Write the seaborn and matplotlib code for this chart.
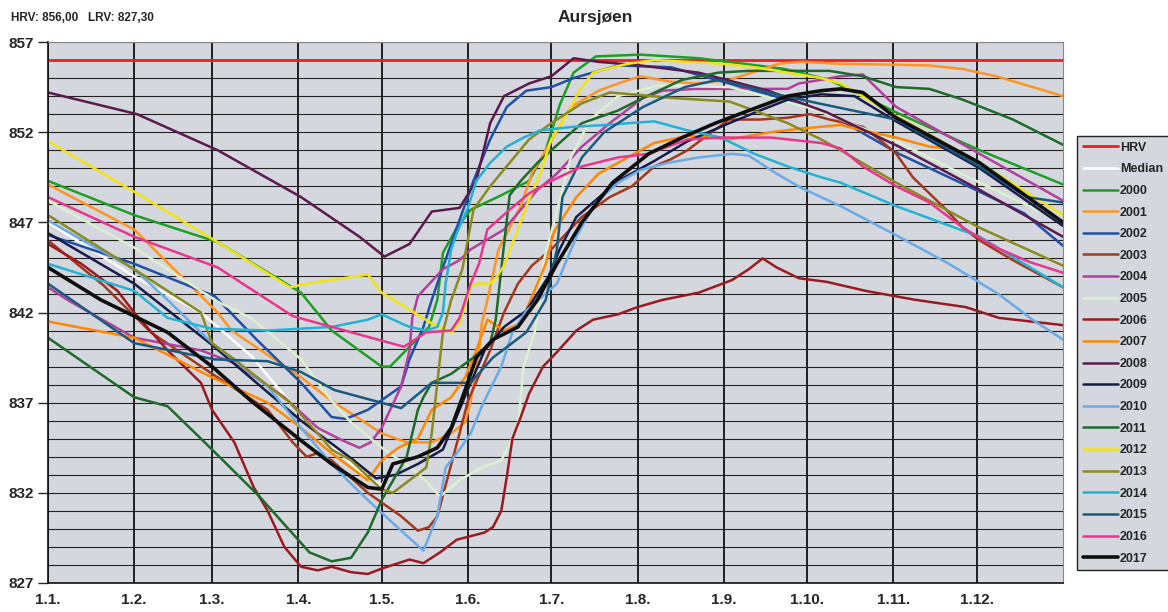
import matplotlib
matplotlib.use("Agg")
import matplotlib.pyplot as plt
from matplotlib.lines import Line2D
import seaborn as sns

# water level (m) per year, (day of year, level)
hrv = [(0, 856.0), (365, 856.0)]
median = [(0, 847.0), (31, 844.0), (55, 842.0), (73, 839.6), (91, 836.3), (102, 834.6), (115, 832.8),
          (120, 832.4), (124, 833.6), (133, 834.0), (140, 834.5), (145, 835.6), (150, 837.7), (154, 839.5),
          (160, 840.5), (169, 841.2), (176, 842.7), (183, 844.7), (192, 847.0), (203, 849.2), (216, 850.8),
          (228, 851.7), (240, 852.5), (252, 853.2), (266, 854.0), (278, 854.3), (285, 854.4), (293, 854.2),
          (305, 852.8), (335, 850.3), (365, 847.0)]

y2000 = [(0, 849.3), (31, 847.4), (61, 845.9), (91, 843.1), (102, 841.0), (120, 839.0), (123, 839.0),
         (130, 840.1), (137, 841.2), (140, 842.7), (142, 845.3), (147, 846.7), (152, 847.7), (163, 848.5),
         (173, 849.3), (179, 851.0), (184, 853.5), (189, 855.3), (197, 856.2), (213, 856.3), (234, 856.1),
         (250, 855.8), (265, 855.5), (281, 854.9), (305, 853.1), (335, 851.0), (365, 849.1)]
y2001 = [(0, 849.1), (31, 846.6), (61, 842.0), (66, 841.0), (91, 838.4), (102, 837.1), (120, 835.3),
         (129, 834.8), (138, 834.8), (145, 835.3), (150, 835.9), (152, 837.1), (155, 839.9), (156, 841.4),
         (158, 842.7), (162, 845.5), (165, 846.4), (170, 847.9), (174, 849.7), (179, 851.0), (188, 853.4),
         (198, 854.3), (205, 854.7), (213, 855.1), (224, 854.8), (233, 854.7), (245, 854.9), (253, 855.3),
         (263, 855.8), (271, 855.9), (284, 855.8), (317, 855.7), (329, 855.5), (341, 855.1), (365, 854.0)]
y2002 = [(0, 846.3), (31, 844.7), (60, 842.9), (75, 840.5), (91, 838.1), (102, 836.2), (107, 836.1),
         (115, 836.6), (127, 837.9), (130, 839.4), (135, 841.2), (138, 842.7), (142, 844.5), (147, 846.7),
         (153, 849.3), (159, 851.6), (165, 853.4), (172, 854.3), (181, 854.5), (189, 855.0), (205, 855.7),
         (224, 855.6), (245, 854.7), (268, 853.7), (280, 853.1), (306, 850.8), (335, 848.7), (351, 847.5),
         (365, 845.7)]
y2003 = [(0, 846.0), (20, 843.5), (37, 840.9), (59, 838.6), (79, 836.6), (88, 834.8), (93, 834.0),
         (97, 834.2), (102, 833.8), (115, 832.0), (127, 830.7), (133, 829.9), (137, 830.1), (140, 830.7),
         (148, 835.3), (151, 837.1), (159, 839.9), (164, 842.0), (169, 843.6), (174, 844.6), (181, 845.5),
         (192, 847.3), (202, 848.4), (210, 849.0), (218, 850.1), (224, 850.5), (230, 851.0), (236, 851.7),
         (245, 852.7), (256, 852.7), (266, 852.8), (274, 853.0), (281, 852.7), (293, 852.3), (299, 851.6),
         (305, 850.8), (311, 849.5), (317, 848.6), (323, 847.7), (329, 846.7), (335, 846.0), (347, 844.9),
         (365, 843.4)]
y2004 = [(0, 843.4), (7, 842.7), (31, 840.6), (55, 839.9), (67, 839.2), (85, 837.3), (97, 835.6),
         (106, 834.9), (112, 834.5), (116, 834.8), (120, 835.6), (127, 837.9), (130, 839.9), (131, 841.7),
         (133, 842.9), (136, 843.4), (142, 844.4), (148, 844.9), (152, 845.5), (164, 846.6), (176, 848.8),
         (183, 849.7), (192, 851.2), (202, 852.5), (214, 853.9), (221, 854.3), (233, 854.4), (250, 854.4),
         (266, 854.4), (270, 854.7), (278, 854.9), (285, 855.1), (293, 855.2), (305, 853.4), (335, 850.8),
         (365, 848.2)]
y2005 = [(0, 848.2), (31, 845.6), (61, 842.6), (73, 841.7), (91, 839.4), (102, 837.1), (109, 835.9),
         (120, 834.5), (133, 833.1), (141, 831.8), (148, 832.7), (156, 833.4), (163, 833.8), (169, 835.6),
         (171, 839.0), (175, 840.9), (177, 842.7), (178, 844.7), (188, 850.6), (195, 852.7), (205, 854.0),
         (220, 854.6), (245, 854.5), (275, 853.3), (305, 851.5), (335, 849.2), (365, 847.0)]
y2006 = [(0, 845.8), (12, 844.7), (25, 843.2), (31, 842.0), (43, 839.9), (55, 838.1), (59, 836.6),
         (67, 834.8), (74, 832.3), (79, 831.0), (85, 829.0), (91, 827.9), (97, 827.7), (102, 827.9),
         (109, 827.6), (115, 827.5), (120, 827.8), (130, 828.3), (135, 828.1), (141, 828.7), (147, 829.4),
         (152, 829.6), (157, 829.8), (160, 830.1), (163, 831.0), (165, 832.9), (167, 835.0), (170, 836.2),
         (173, 837.5), (178, 839.0), (183, 839.8), (190, 841.0), (196, 841.6), (205, 841.9), (212, 842.3),
         (221, 842.7), (234, 843.1), (246, 843.8), (252, 844.4), (257, 845.0), (262, 844.5), (270, 843.9),
         (280, 843.7), (294, 843.2), (312, 842.7), (330, 842.3), (342, 841.7), (365, 841.3)]
y2007 = [(0, 841.5), (31, 840.6), (59, 838.4), (79, 837.0), (91, 835.6), (102, 834.2), (115, 832.7),
         (120, 833.8), (126, 834.5), (133, 835.0), (138, 836.6), (145, 837.3), (150, 838.4), (154, 839.9),
         (158, 841.6), (164, 841.0), (170, 841.4), (176, 843.6), (179, 844.7), (182, 846.5), (190, 848.4),
         (198, 849.7), (205, 850.3), (212, 850.9), (218, 851.4), (230, 851.8), (245, 851.6), (260, 852.0),
         (271, 852.2), (285, 852.4), (293, 852.1), (305, 851.7), (317, 851.2), (324, 851.1)]
y2008 = [(0, 854.2), (32, 853.0), (61, 851.0), (91, 848.4), (112, 846.2), (121, 845.1), (130, 845.8),
         (138, 847.6), (148, 847.8), (154, 849.3), (159, 852.5), (164, 854.0), (173, 854.7), (181, 855.1),
         (189, 856.1), (198, 855.9), (213, 855.7), (234, 855.3), (259, 854.3), (280, 853.1), (306, 851.2),
         (335, 848.8), (365, 846.2)]
y2009 = [(0, 846.4), (31, 843.6), (59, 840.2), (91, 836.0), (110, 833.8), (118, 832.8), (125, 833.0),
         (133, 833.6), (142, 834.4), (152, 838.1), (157, 839.9), (164, 841.2), (172, 842.1), (180, 844.0),
         (184, 845.5), (190, 847.3), (205, 849.3), (218, 850.4), (230, 851.5), (245, 852.5), (256, 853.2),
         (266, 853.8), (278, 854.1), (290, 854.0), (305, 852.6), (335, 850.0), (365, 846.8)]
y2010 = [(0, 847.1), (31, 844.4), (43, 842.7), (59, 840.3), (79, 837.9), (91, 835.6), (102, 833.6),
         (109, 832.5), (115, 831.6), (127, 829.9), (135, 828.8), (140, 830.7), (143, 833.4), (148, 834.4),
         (152, 835.3), (156, 836.8), (163, 839.0), (167, 840.9), (172, 842.1), (183, 843.6), (190, 846.2),
         (197, 848.1), (205, 849.2), (213, 849.9), (223, 850.3), (234, 850.6), (246, 850.8), (252, 850.7),
         (262, 849.7), (271, 848.9), (285, 847.9), (306, 846.2), (324, 844.7), (342, 843.0), (354, 841.6),
         (365, 840.5)]
y2011 = [(0, 840.6), (31, 837.3), (43, 836.8), (59, 834.4), (76, 831.8), (94, 828.7), (102, 828.2),
         (109, 828.4), (115, 829.8), (120, 831.6), (129, 834.0), (133, 836.6), (135, 837.3), (138, 838.1),
         (145, 838.6), (153, 839.5), (159, 840.3), (161, 841.6), (163, 844.4), (166, 848.5), (170, 849.3),
         (176, 850.3), (181, 851.0), (192, 852.5), (205, 853.2), (214, 853.9), (228, 854.9), (241, 855.3),
         (252, 855.4), (270, 855.4), (281, 855.4), (293, 855.1), (305, 854.5), (317, 854.4), (329, 853.8),
         (347, 852.7), (365, 851.3)]
y2012 = [(0, 851.5), (32, 848.6), (61, 845.9), (87, 843.4), (93, 843.6), (115, 844.1), (120, 843.1),
         (138, 841.4), (145, 840.9), (148, 841.4), (152, 843.4), (154, 843.6), (159, 843.6), (161, 843.9),
         (164, 844.6), (172, 847.9), (177, 849.7), (181, 851.6), (187, 853.1), (191, 854.3), (196, 855.3),
         (203, 855.6), (209, 855.8), (218, 856.0), (242, 855.8), (254, 855.6), (266, 855.3), (278, 855.0),
         (285, 854.7), (305, 852.9), (335, 850.3), (365, 847.4)]
y2013 = [(0, 847.4), (31, 844.4), (55, 842.0), (59, 840.3), (67, 839.4), (87, 837.0), (97, 835.3),
         (102, 834.4), (109, 833.8), (115, 832.9), (120, 832.2), (124, 832.0), (136, 833.4), (138, 835.3),
         (140, 838.1), (142, 840.9), (145, 842.7), (149, 844.4), (153, 847.7), (159, 849.0), (166, 850.3),
         (173, 851.6), (181, 852.5), (192, 853.6), (202, 854.2), (210, 854.1), (224, 853.9), (245, 853.7),
         (254, 853.2), (266, 852.5), (278, 851.6), (285, 851.0), (305, 849.2), (335, 846.7), (365, 844.6)]
y2014 = [(0, 844.7), (31, 843.2), (43, 841.7), (59, 841.1), (79, 841.0), (102, 841.2), (115, 841.6),
         (120, 841.9), (127, 841.4), (130, 841.2), (136, 841.0), (140, 841.2), (142, 842.0), (143, 843.6),
         (145, 845.5), (147, 846.4), (151, 847.8), (154, 849.3), (159, 850.3), (165, 851.2), (171, 851.7),
         (177, 852.1), (189, 852.3), (201, 852.4), (209, 852.5), (218, 852.6), (230, 852.1), (242, 851.7),
         (254, 850.8), (266, 850.1), (278, 849.5), (285, 849.2), (305, 847.9), (335, 846.2), (365, 843.4)]
y2015 = [(0, 843.6), (31, 840.3), (60, 839.4), (79, 839.3), (91, 838.7), (103, 837.7), (127, 836.7),
         (138, 838.1), (152, 838.1), (160, 839.5), (172, 840.9), (179, 842.7), (183, 845.5), (185, 848.4),
         (192, 850.6), (200, 852.0), (214, 853.4), (229, 854.5), (241, 854.9), (259, 854.2), (277, 853.6),
         (305, 852.7), (335, 850.1), (352, 848.4), (365, 848.1)]
y2016 = [(0, 848.4), (31, 846.2), (61, 844.5), (88, 841.8), (102, 841.2), (128, 840.1), (136, 840.9),
         (145, 841.0), (148, 841.7), (152, 843.6), (155, 844.7), (158, 846.6), (166, 847.7), (173, 848.6),
         (181, 849.3), (192, 850.1), (205, 850.6), (216, 850.8), (230, 851.6), (242, 851.7), (260, 851.7),
         (278, 851.4), (285, 851.1), (293, 850.1), (305, 849.0), (317, 848.1), (329, 846.7), (341, 845.6),
         (353, 844.8), (365, 844.2)]
y2017 = [(0, 844.5), (19, 842.7), (43, 840.9), (59, 839.0), (73, 837.1), (91, 834.9), (102, 833.6),
         (115, 832.3), (120, 832.2), (124, 833.6), (133, 834.0), (140, 834.5), (145, 835.6), (150, 837.7),
         (154, 839.5), (160, 840.5), (169, 841.2), (176, 842.7), (183, 844.7), (192, 847.0), (203, 849.2),
         (216, 850.8), (228, 851.7), (240, 852.5), (252, 853.2), (266, 854.0), (278, 854.3), (285, 854.4),
         (293, 854.2), (305, 852.8), (335, 850.3), (365, 847.0)]

month_days = [0, 31, 59, 90, 120, 151, 181, 212, 243, 273, 304, 334]
month_labels = ["1.1.", "1.2.", "1.3.", "1.4.", "1.5.", "1.6.", "1.7.", "1.8.", "1.9.", "1.10.", "1.11.", "1.12."]

series = [
    ("HRV", hrv, "#e82020", 2.0),
    ("Median", median, "#ffffff", 1.8),
    ("2000", y2000, "#1f9e24", 1.8),
    ("2001", y2001, "#ff9420", 1.8),
    ("2002", y2002, "#1f4fa6", 1.8),
    ("2003", y2003, "#a3381e", 1.8),
    ("2004", y2004, "#b0409c", 1.8),
    ("2005", y2005, "#dcefcf", 1.8),
    ("2006", y2006, "#9a1a22", 1.8),
    ("2007", y2007, "#ff8800", 1.8),
    ("2008", y2008, "#5a1a4e", 1.8),
    ("2009", y2009, "#161c4a", 1.8),
    ("2010", y2010, "#6aaae6", 1.8),
    ("2011", y2011, "#1e6a2a", 1.8),
    ("2012", y2012, "#f2e414", 1.8),
    ("2013", y2013, "#8a8a1e", 1.8),
    ("2014", y2014, "#22b2d4", 1.8),
    ("2015", y2015, "#1b5a80", 1.8),
    ("2016", y2016, "#e8368c", 1.8),
    ("2017", y2017, "#0e0e0e", 2.6),
]

sns.set_style("white")
plt.rcParams['font.family'] = ['Liberation Sans', 'DejaVu Sans']

fig = plt.figure(figsize=(11.68, 6.12), dpi=100)
ax = fig.add_axes([48 / 1168, 1 - 583 / 612, (1063 - 48) / 1168, (583 - 42) / 612])
ax.set_facecolor("#d4d7de")

handles = []
for name, pts, col, lw in series:
    d = [p[0] for p in pts]
    v = [p[1] for p in pts]
    sns.lineplot(x=d, y=v, ax=ax, color=col, linewidth=lw, sort=False, estimator=None)
    handles.append(Line2D([0], [0], color=col, linewidth=lw, label=name))

ax.set_xlim(0, 365)
ax.set_ylim(827, 857)
ax.set_xticks(month_days)
ax.set_xticklabels(month_labels)
ax.set_yticks(range(827, 858, 5))
ax.set_yticks(range(827, 858), minor=True)
ax.grid(which="both", axis="y", color="#222222", linewidth=0.8)
ax.grid(which="major", axis="x", color="#111111", linewidth=1.3)
ax.set_axisbelow(True)
ax.tick_params(axis="y", which="major", length=7, width=1, direction="out", labelsize=11, pad=3, left=True)
ax.tick_params(axis="y", which="minor", length=0)
ax.tick_params(axis="x", which="major", length=0, labelsize=11, pad=7)
for lab in ax.get_xticklabels() + ax.get_yticklabels():
    lab.set_fontweight("bold")
for s in ["left", "bottom"]:
    ax.spines[s].set_color("#111111")
    ax.spines[s].set_linewidth(1.2)
for s in ["top", "right"]:
    ax.spines[s].set_color("#888888")
    ax.spines[s].set_linewidth(0.8)

fig.text(0.51, 0.972, "Aursjøen", ha="center", va="center", fontsize=12.5, fontweight="bold")
fig.text(0.009, 0.970, "HRV: 856,00   LRV: 827,30", ha="left", va="center", fontsize=8.5, fontweight="bold")

leg = fig.legend(handles=handles, loc="upper left", bbox_to_anchor=(1077 / 1168, 1 - 136 / 612),
                 prop={"weight": "bold", "size": 9}, frameon=True, fancybox=False,
                 facecolor="#d4d7de", edgecolor="#222222", framealpha=1,
                 handlelength=2.8, handletextpad=0.2, labelspacing=0.77, borderpad=0.45, borderaxespad=0)
leg.get_frame().set_linewidth(1.0)

fig.savefig("out.png", dpi=100)
